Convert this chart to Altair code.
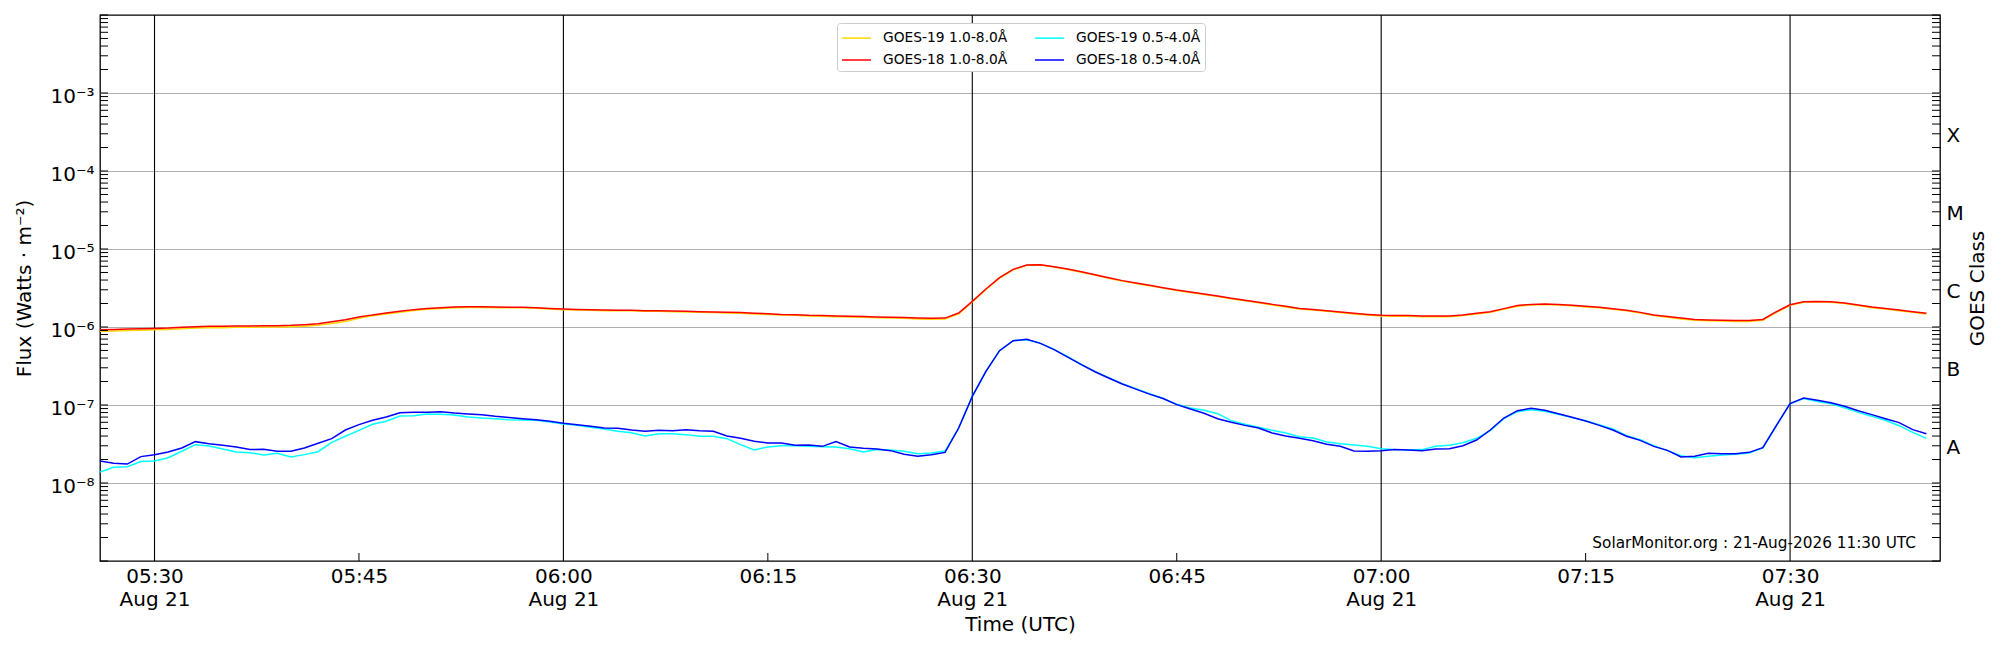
import altair as alt
import pandas as pd

# ---------------- data (1-minute GOES XRS fluxes, W/m^2) ----------------
START = "2026-08-21 05:26:00"
N_MIN = 135

goes19_long = [
    8.8e-7, 8.9e-7, 9.0e-7, 9.1e-7, 9.2e-7, 9.3e-7, 9.5e-7, 9.7e-7, 9.8e-7, 9.8e-7,
    9.9e-7, 9.9e-7, 1.00e-6, 1.00e-6, 1.01e-6, 1.02e-6, 1.05e-6, 1.11e-6, 1.18e-6, 1.29e-6,
    1.39e-6, 1.47e-6, 1.55e-6, 1.63e-6, 1.69e-6, 1.73e-6, 1.76e-6, 1.78e-6, 1.78e-6, 1.77e-6,
    1.76e-6, 1.76e-6, 1.74e-6, 1.70e-6, 1.67e-6, 1.65e-6, 1.64e-6, 1.62e-6, 1.61e-6, 1.61e-6,
    1.59e-6, 1.59e-6, 1.57e-6, 1.56e-6, 1.54e-6, 1.53e-6, 1.51e-6, 1.50e-6, 1.47e-6, 1.45e-6,
    1.43e-6, 1.41e-6, 1.38e-6, 1.37e-6, 1.35e-6, 1.34e-6, 1.33e-6, 1.31e-6, 1.30e-6, 1.29e-6,
    1.27e-6, 1.26e-6, 1.27e-6, 1.47e-6, 2.10e-6, 3.03e-6, 4.24e-6, 5.42e-6, 6.17e-6, 6.23e-6,
    5.87e-6, 5.47e-6, 5.05e-6, 4.63e-6, 4.23e-6, 3.88e-6, 3.61e-6, 3.37e-6, 3.15e-6, 2.94e-6,
    2.77e-6, 2.61e-6, 2.46e-6, 2.30e-6, 2.17e-6, 2.04e-6, 1.92e-6, 1.81e-6, 1.70e-6, 1.65e-6,
    1.59e-6, 1.53e-6, 1.47e-6, 1.42e-6, 1.38e-6, 1.37e-6, 1.37e-6, 1.35e-6, 1.35e-6, 1.35e-6,
    1.40e-6, 1.47e-6, 1.54e-6, 1.69e-6, 1.85e-6, 1.92e-6, 1.94e-6, 1.92e-6, 1.87e-6, 1.81e-6,
    1.76e-6, 1.69e-6, 1.61e-6, 1.51e-6, 1.40e-6, 1.33e-6, 1.27e-6, 1.22e-6, 1.20e-6, 1.19e-6,
    1.18e-6, 1.18e-6, 1.22e-6, 1.54e-6, 1.90e-6, 2.08e-6, 2.10e-6, 2.08e-6, 2.00e-6, 1.88e-6,
    1.77e-6, 1.70e-6, 1.62e-6, 1.54e-6, 1.47e-6,
]

goes18_long = [
    9.2e-7, 9.3e-7, 9.4e-7, 9.5e-7, 9.6e-7, 9.7e-7, 9.9e-7, 1.01e-6, 1.02e-6, 1.02e-6,
    1.03e-6, 1.03e-6, 1.04e-6, 1.04e-6, 1.05e-6, 1.07e-6, 1.10e-6, 1.17e-6, 1.24e-6, 1.34e-6,
    1.43e-6, 1.51e-6, 1.59e-6, 1.67e-6, 1.73e-6, 1.77e-6, 1.80e-6, 1.82e-6, 1.82e-6, 1.80e-6,
    1.79e-6, 1.79e-6, 1.77e-6, 1.73e-6, 1.70e-6, 1.68e-6, 1.67e-6, 1.65e-6, 1.64e-6, 1.64e-6,
    1.62e-6, 1.62e-6, 1.60e-6, 1.59e-6, 1.57e-6, 1.56e-6, 1.54e-6, 1.53e-6, 1.50e-6, 1.48e-6,
    1.45e-6, 1.44e-6, 1.41e-6, 1.40e-6, 1.38e-6, 1.37e-6, 1.36e-6, 1.34e-6, 1.33e-6, 1.32e-6,
    1.30e-6, 1.29e-6, 1.30e-6, 1.51e-6, 2.13e-6, 3.07e-6, 4.29e-6, 5.48e-6, 6.24e-6, 6.30e-6,
    5.94e-6, 5.54e-6, 5.12e-6, 4.69e-6, 4.29e-6, 3.93e-6, 3.66e-6, 3.42e-6, 3.19e-6, 2.98e-6,
    2.81e-6, 2.65e-6, 2.50e-6, 2.33e-6, 2.20e-6, 2.07e-6, 1.95e-6, 1.84e-6, 1.73e-6, 1.68e-6,
    1.62e-6, 1.56e-6, 1.50e-6, 1.45e-6, 1.41e-6, 1.40e-6, 1.40e-6, 1.38e-6, 1.38e-6, 1.38e-6,
    1.43e-6, 1.50e-6, 1.57e-6, 1.72e-6, 1.88e-6, 1.95e-6, 1.97e-6, 1.95e-6, 1.90e-6, 1.84e-6,
    1.79e-6, 1.72e-6, 1.64e-6, 1.54e-6, 1.43e-6, 1.36e-6, 1.30e-6, 1.25e-6, 1.23e-6, 1.22e-6,
    1.21e-6, 1.21e-6, 1.25e-6, 1.57e-6, 1.93e-6, 2.11e-6, 2.13e-6, 2.11e-6, 2.03e-6, 1.91e-6,
    1.80e-6, 1.73e-6, 1.65e-6, 1.57e-6, 1.50e-6,
]

goes19_short = [
    1.38e-8, 1.59e-8, 1.62e-8, 1.88e-8, 1.91e-8, 2.11e-8, 2.55e-8, 3.10e-8, 2.98e-8, 2.73e-8,
    2.50e-8, 2.45e-8, 2.29e-8, 2.40e-8, 2.16e-8, 2.31e-8, 2.52e-8, 3.32e-8, 3.97e-8, 4.73e-8,
    5.65e-8, 6.18e-8, 7.23e-8, 7.30e-8, 7.67e-8, 7.59e-8, 7.44e-8, 7.02e-8, 6.81e-8, 6.68e-8,
    6.49e-8, 6.42e-8, 6.36e-8, 6.05e-8, 5.71e-8, 5.48e-8, 5.17e-8, 4.92e-8, 4.60e-8, 4.42e-8,
    4.01e-8, 4.29e-8, 4.29e-8, 4.17e-8, 3.97e-8, 3.97e-8, 3.70e-8, 3.10e-8, 2.65e-8, 2.90e-8,
    3.01e-8, 3.01e-8, 2.95e-8, 2.92e-8, 2.90e-8, 2.75e-8, 2.50e-8, 2.68e-8, 2.65e-8, 2.55e-8,
    2.38e-8, 2.43e-8, 2.57e-8, 5.07e-8, 1.29e-7, 2.70e-7, 4.97e-7, 6.68e-7, 6.88e-7, 6.17e-7,
    5.17e-7, 4.17e-7, 3.32e-7, 2.70e-7, 2.24e-7, 1.88e-7, 1.62e-7, 1.40e-7, 1.21e-7, 1.02e-7,
    9.16e-8, 8.55e-8, 7.74e-8, 6.30e-8, 5.65e-8, 5.17e-8, 4.73e-8, 4.38e-8, 3.93e-8, 3.78e-8,
    3.36e-8, 3.19e-8, 3.07e-8, 2.95e-8, 2.75e-8, 2.68e-8, 2.65e-8, 2.68e-8, 2.95e-8, 3.04e-8,
    3.29e-8, 3.74e-8, 4.69e-8, 6.68e-8, 8.22e-8, 8.71e-8, 8.30e-8, 7.59e-8, 6.89e-8, 6.30e-8,
    5.60e-8, 4.92e-8, 4.05e-8, 3.60e-8, 3.01e-8, 2.60e-8, 2.24e-8, 2.11e-8, 2.20e-8, 2.29e-8,
    2.33e-8, 2.43e-8, 2.81e-8, 5.43e-8, 1.04e-7, 1.21e-7, 1.11e-7, 1.04e-7, 9.24e-8, 8.05e-8,
    7.16e-8, 6.36e-8, 5.43e-8, 4.46e-8, 3.74e-8,
]

goes18_short = [
    1.91e-8, 1.79e-8, 1.75e-8, 2.18e-8, 2.31e-8, 2.50e-8, 2.81e-8, 3.39e-8, 3.19e-8, 3.04e-8,
    2.90e-8, 2.68e-8, 2.70e-8, 2.55e-8, 2.55e-8, 2.81e-8, 3.23e-8, 3.70e-8, 4.78e-8, 5.60e-8,
    6.36e-8, 7.02e-8, 7.97e-8, 8.05e-8, 8.05e-8, 8.22e-8, 7.89e-8, 7.67e-8, 7.52e-8, 7.16e-8,
    6.89e-8, 6.68e-8, 6.49e-8, 6.18e-8, 5.82e-8, 5.60e-8, 5.33e-8, 5.07e-8, 5.02e-8, 4.78e-8,
    4.60e-8, 4.73e-8, 4.69e-8, 4.83e-8, 4.69e-8, 4.60e-8, 4.01e-8, 3.74e-8, 3.42e-8, 3.26e-8,
    3.26e-8, 3.04e-8, 3.07e-8, 2.95e-8, 3.39e-8, 2.90e-8, 2.78e-8, 2.73e-8, 2.60e-8, 2.33e-8,
    2.20e-8, 2.31e-8, 2.47e-8, 5.07e-8, 1.29e-7, 2.70e-7, 4.97e-7, 6.68e-7, 6.95e-7, 6.17e-7,
    5.12e-7, 4.12e-7, 3.29e-7, 2.67e-7, 2.22e-7, 1.86e-7, 1.60e-7, 1.38e-7, 1.21e-7, 1.01e-7,
    8.89e-8, 7.82e-8, 6.68e-8, 6.00e-8, 5.48e-8, 5.07e-8, 4.38e-8, 4.01e-8, 3.74e-8, 3.49e-8,
    3.13e-8, 2.95e-8, 2.57e-8, 2.55e-8, 2.60e-8, 2.68e-8, 2.65e-8, 2.60e-8, 2.73e-8, 2.75e-8,
    3.01e-8, 3.56e-8, 4.78e-8, 6.81e-8, 8.46e-8, 9.06e-8, 8.55e-8, 7.74e-8, 6.95e-8, 6.24e-8,
    5.48e-8, 4.78e-8, 3.97e-8, 3.52e-8, 2.95e-8, 2.62e-8, 2.16e-8, 2.20e-8, 2.40e-8, 2.38e-8,
    2.38e-8, 2.47e-8, 2.84e-8, 5.48e-8, 1.04e-7, 1.23e-7, 1.15e-7, 1.07e-7, 9.62e-8, 8.46e-8,
    7.52e-8, 6.68e-8, 5.94e-8, 4.83e-8, 4.29e-8,
]

# legend entries (filled column by column: left column = 1.0-8.0 Å, right column = 0.5-4.0 Å)
LEGEND_ORDER = ["GOES-19 1.0-8.0Å", "GOES-18 1.0-8.0Å", "GOES-19 0.5-4.0Å", "GOES-18 0.5-4.0Å"]
LEGEND_COLORS = ["#ffd700", "#ff0000", "#00ffff", "#0000ff"]
DRAW_ORDER = [
    ("GOES-19 1.0-8.0Å", goes19_long),
    ("GOES-18 1.0-8.0Å", goes18_long),
    ("GOES-19 0.5-4.0Å", goes19_short),
    ("GOES-18 0.5-4.0Å", goes18_short),
]

HALF_HOURS = ["05:30", "06:00", "06:30", "07:00", "07:30"]
QUARTERS = ["05:45", "06:15", "06:45", "07:15"]
DECADE_LABELS = [1e-8, 1e-7, 1e-6, 1e-5, 1e-4, 1e-3]
CLASS_LETTERS = ["A", "B", "C", "M", "X"]
CLASS_POS = [10 ** -7.5, 10 ** -6.5, 10 ** -5.5, 10 ** -4.5, 10 ** -3.5]
WATERMARK = "SolarMonitor.org : 21-Aug-2026 11:30 UTC"

for _, vals in DRAW_ORDER:
    assert len(vals) == N_MIN, len(vals)

times = pd.date_range(START, periods=N_MIN, freq="1min", tz="UTC")
tstr = [t.strftime("%Y-%m-%dT%H:%M:%SZ") for t in times]

rows = []
for name, vals in DRAW_ORDER:
    for t, v in zip(tstr, vals):
        rows.append({"t": t, "v": v, "series": name})
df = pd.DataFrame(rows)

minor_ticks = [float(f"{k}e{e}") for e in range(-9, -2) for k in range(1, 10)] + [1e-2]
tick_df = pd.DataFrame({"v": minor_ticks})
half_df = pd.DataFrame({"t": [f"2026-08-21T{h}:00Z" for h in HALF_HOURS]})
quarter_df = pd.DataFrame({"t": [f"2026-08-21T{h}:00Z" for h in QUARTERS]})


def dt(h, m):
    return alt.DateTime(year=2026, month=8, date=21, hours=h, minutes=m, utc=True)


FONT = "DejaVu Sans"
W, H = 1840, 546

x_scale = alt.Scale(type="utc", domain=[dt(5, 26), dt(7, 41)])
y_scale = alt.Scale(type="log", domain=[1e-9, 1e-2], nice=False)

x_axis = alt.Axis(
    values=[dt(5, 30), dt(5, 45), dt(6, 0), dt(6, 15), dt(6, 30), dt(6, 45), dt(7, 0), dt(7, 15), dt(7, 30)],
    labelExpr="utcminutes(datum.value) % 30 == 0 ? [utcFormat(datum.value, '%H:%M'), 'Aug 21'] : utcFormat(datum.value, '%H:%M')",
    ticks=False, tickSize=0, domain=False, grid=False,
    labelFontSize=20, labelPadding=5, labelLineHeight=23, labelOverlap=False, labelFlush=False,
    labelFont=FONT, labelColor="black",
    title="Time (UTC)", titleFontSize=20, titleFont=FONT, titleFontWeight="normal", titleColor="black",
    titleY=69.5, titleBaseline="alphabetic",
)

y_axis = alt.Axis(
    values=DECADE_LABELS,
    labelExpr="'10⁻' + ['⁰','¹','²','³','⁴','⁵','⁶','⁷','⁸','⁹'][round(-log(datum.value)/LN10)]",
    ticks=False, tickSize=0, domain=False,
    grid=True, gridColor="#b0b0b0", gridWidth=1, gridOpacity=1,
    labelFontSize=20, labelPadding=6, labelOffset=3, labelFont=FONT, labelColor="black",
    title="Flux (Watts · m⁻²)", titleFontSize=20, titleFont=FONT, titleFontWeight="normal",
    titleColor="black", titleX=-69.5, titleY=H / 2, titleBaseline="alphabetic",
)

X = alt.X("t:T", scale=x_scale, axis=x_axis)
Y = alt.Y("v:Q", scale=y_scale, axis=y_axis)

color = alt.Color(
    "series:N",
    scale=alt.Scale(domain=LEGEND_ORDER, range=LEGEND_COLORS),
    legend=alt.Legend(
        orient="none", legendX=737, legendY=8, columns=2, title=None,
        symbolType="M-1,0H1.9", symbolSize=400, symbolStrokeWidth=1.5,
        labelFontSize=13.8, labelFont=FONT, labelColor="black", labelOffset=20, labelLimit=400,
        columnPadding=24, rowPadding=4, padding=4,
        strokeColor="#cccccc", fillColor="white", cornerRadius=3,
    ),
)

base = alt.Chart(df)
line_layers = [
    base.transform_filter(alt.datum.series == name)
    .mark_line(strokeWidth=1.5, clip=True)
    .encode(x=X, y=Y, color=color)
    for name, _ in DRAW_ORDER
]

vlines = alt.Chart(half_df).mark_rule(color="black", strokeWidth=1.1).encode(x=X)
xticks = alt.Chart(quarter_df).mark_rule(color="black", strokeWidth=1).encode(
    x=X, y=alt.value(H - 8), y2=alt.value(H)
)
lticks = alt.Chart(tick_df).mark_rule(color="black", strokeWidth=1).encode(
    y=Y, x=alt.value(0), x2=alt.value(8)
)
watermark = alt.Chart(pd.DataFrame({"txt": [WATERMARK]})).mark_text(
    align="right", baseline="alphabetic", fontSize=15.3, font=FONT, color="black"
).encode(text="txt:N", x=alt.value(W - 24), y=alt.value(532.5))

left = alt.layer(vlines, *line_layers, xticks, lticks, watermark)

right_axis = alt.Axis(
    orient="right", values=CLASS_POS,
    labelExpr="['A','B','C','M','X'][round(log(datum.value)/LN10 + 7.5)]",
    ticks=False, tickSize=0, domain=False, grid=False,
    labelFontSize=20, labelPadding=6, labelOffset=3, labelAlign="left", labelFont=FONT, labelColor="black",
    title="GOES Class", titleFontSize=20, titleFont=FONT, titleFontWeight="normal", titleColor="black",
    titleAngle=270, titleX=43, titleY=H / 2, titleBaseline="alphabetic",
)
rticks = alt.Chart(tick_df).mark_rule(color="black", strokeWidth=1).encode(
    y=alt.Y("v:Q", scale=y_scale, axis=right_axis), x=alt.value(W - 8), x2=alt.value(W)
)

chart = (
    alt.layer(left, rticks)
    .resolve_scale(y="independent")
    .properties(
        width=W, height=H,
        padding={"left": 92, "top": 7, "right": 52, "bottom": 81},
        autosize=alt.AutoSizeParams(type="none"),
        background="white",
    )
    .configure_view(stroke="black", strokeWidth=1.3)
)

chart.save("out.html", embed_options={"renderer": "svg", "actions": False})
